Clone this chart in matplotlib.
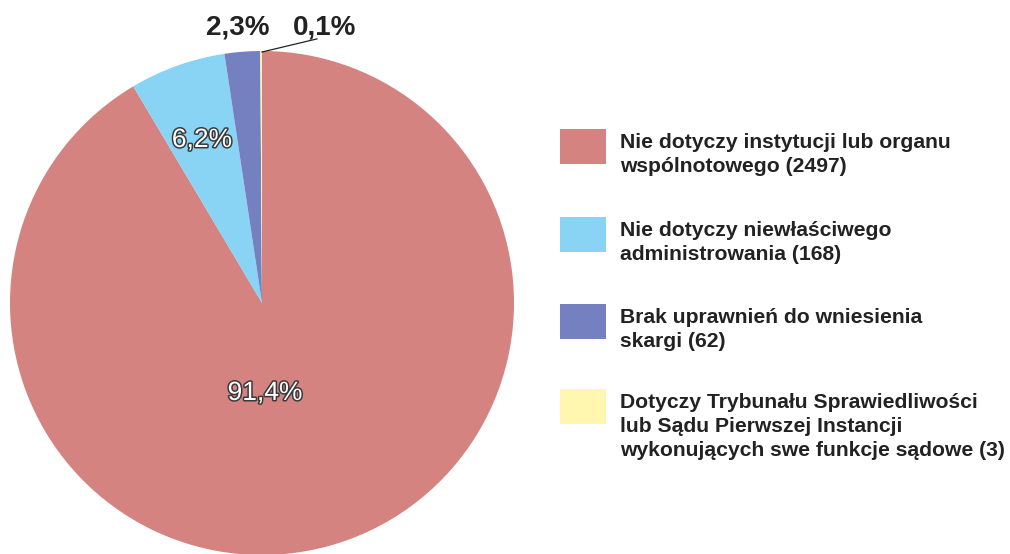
import matplotlib.pyplot as plt
import matplotlib.patheffects as pe
from matplotlib.patches import Rectangle

plt.rcParams['font.family'] = ['Liberation Sans', 'DejaVu Sans']

categories = [
    "Nie dotyczy instytucji lub organu\nwspólnotowego (2497)",
    "Nie dotyczy niewłaściwego\nadministrowania (168)",
    "Brak uprawnień do wniesienia\nskargi (62)",
    "Dotyczy Trybunału Sprawiedliwości\nlub Sądu Pierwszej Instancji\nwykonujących swe funkcje sądowe (3)",
]
counts = [2497, 168, 62, 3]
pct_labels = ["91,4%", "6,2%", "2,3%", "0,1%"]
colors = ["#d48380", "#89d3f4", "#7480c0", "#fff6b0"]

fig = plt.figure(figsize=(10.1, 5.54), dpi=100)

# pie axes: 504x504 px box, centre at (262, 303) px from top-left
ax = fig.add_axes([10 / 1010, (554 - 303 - 252) / 554, 504 / 1010, 504 / 554])
ax.pie(counts, colors=colors, startangle=90, counterclock=False, radius=1,
       wedgeprops=dict(linewidth=0))
ax.set_xlim(-1, 1)
ax.set_ylim(-1, 1)
ax.set_aspect('equal')
ax.axis('off')

outline = [pe.withStroke(linewidth=2.2, foreground='#3a3a3a')]
ax.text(0.012, -0.357, pct_labels[0], color='white', fontsize=19,
        ha='center', va='center', path_effects=outline)
ax.text(-0.238, 0.647, pct_labels[1], color='white', fontsize=19,
        ha='center', va='center', path_effects=outline)
ax.text(-0.095, 1.095, pct_labels[2], color='#222222', fontsize=20,
        fontweight='bold', ha='center', va='center', clip_on=False)
ax.text(0.25, 1.095, pct_labels[3], color='#222222', fontsize=20,
        fontweight='bold', ha='center', va='center', clip_on=False)
ax.plot([0.0, 0.218], [0.996, 1.048], color='#222222', lw=0.9, clip_on=False)

# legend drawn by hand
square_tops = [129, 217, 304, 389]
for label, col, top in zip(categories, colors, square_tops):
    fig.patches.append(Rectangle((560 / 1010, (554 - top - 35) / 554), 46 / 1010, 35 / 554,
                                 transform=fig.transFigure, facecolor=col, edgecolor='none'))
    fig.text(620 / 1010, (554 - top - 4) / 554, label, fontsize=15.2, fontweight='bold',
             color='#222222', ha='left', va='top', linespacing=1.32)

fig.savefig('out.png', dpi=100)
